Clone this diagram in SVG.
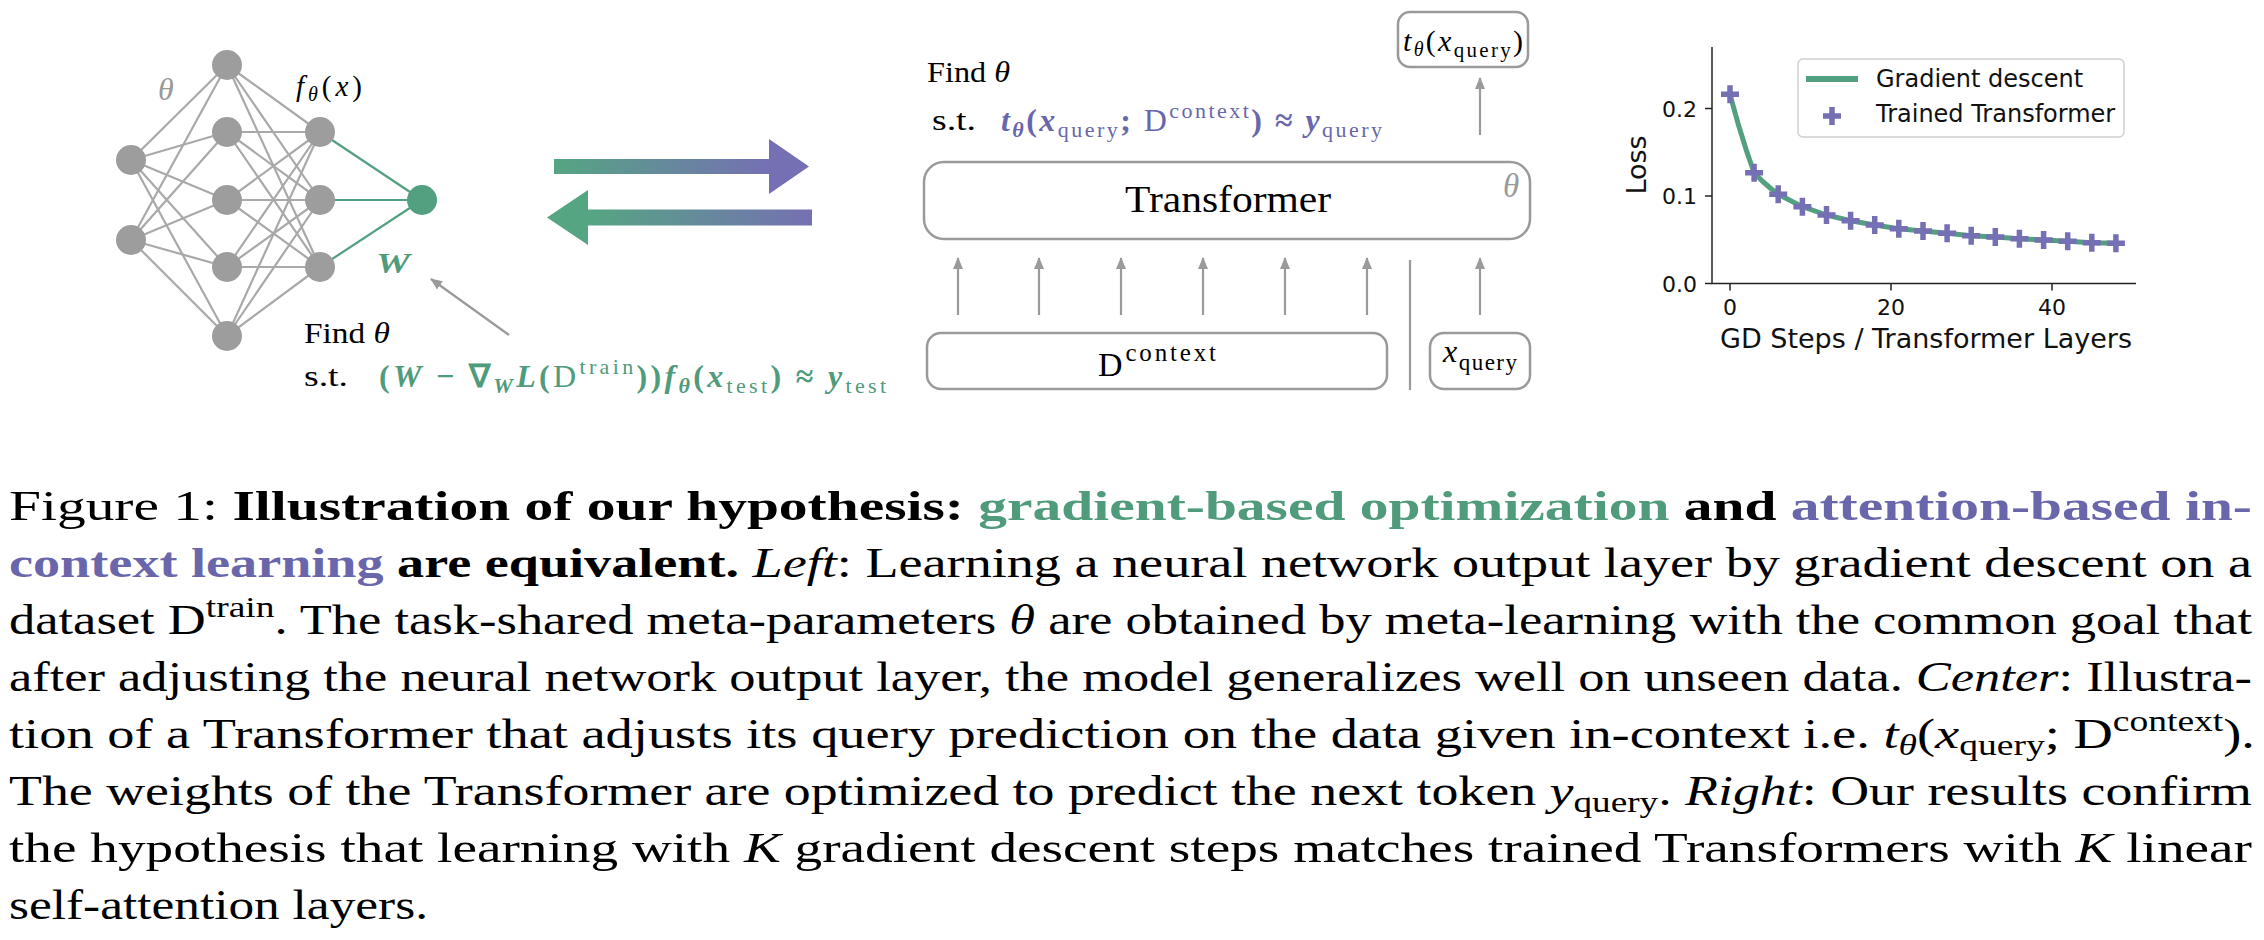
<svg xmlns="http://www.w3.org/2000/svg" width="2264" height="940" viewBox="0 0 2264 940">
<style>
.serif{font-family:"Liberation Serif","Times New Roman",serif}
.sans{font-family:"DejaVu Sans","Liberation Sans",sans-serif}
.edge{stroke:#a9a9a9;stroke-width:2.2;fill:none}
.wedge{stroke:#52a07f;stroke-width:2.2;fill:none}
.node{fill:#9d9d9d}
.onode{fill:#52a07f}
.box{fill:#fff;stroke:#9a9a9a;stroke-width:2.5}
.arr{stroke:#9a9a9a;stroke-width:2.2;fill:none;marker-end:url(#ah)}
.cap{font-family:"Liberation Serif","Times New Roman",serif;font-size:42px;fill:#000}
.b{font-weight:bold}
.n{font-weight:normal}
.i{font-style:italic}
.u{font-style:normal}
.g{fill:#4f9b7b}
.p{fill:#6a66ab}
.gray{fill:#999}
.tick{stroke:#222;stroke-width:1.5}
.tl{font-family:"DejaVu Sans",sans-serif;font-size:22px;fill:#111}
.mk{stroke:#7570b3;stroke-width:5.5;fill:none}
</style>
<defs>
<marker id="ah" viewBox="0 0 12 10" refX="11" refY="5" markerWidth="12" markerHeight="10" markerUnits="userSpaceOnUse" orient="auto"><path d="M0,0 L12,5 L0,10 z" fill="#9a9a9a"/></marker>
<linearGradient id="gTop" gradientUnits="userSpaceOnUse" x1="554" y1="0" x2="769" y2="0"><stop offset="0" stop-color="#55a582"/><stop offset="1" stop-color="#7570b3"/></linearGradient>
<linearGradient id="gBot" gradientUnits="userSpaceOnUse" x1="588" y1="0" x2="812" y2="0"><stop offset="0" stop-color="#55a582"/><stop offset="1" stop-color="#7570b3"/></linearGradient>
<path id="plus" d="M-9,0H9M0,-9V9"/>
</defs>
<rect width="2264" height="940" fill="#fff"/>

<!-- connectors -->
<g id="connectors">
 <g id="nn-edges" class="edge">
  <path d="M131,160L227,65M131,160L227,132M131,160L227,200M131,160L227,267M131,160L227,336"/>
  <path d="M131,240L227,65M131,240L227,132M131,240L227,200M131,240L227,267M131,240L227,336"/>
  <path d="M227,65L320,132M227,65L320,200M227,65L320,267"/>
  <path d="M227,132L320,132M227,132L320,200M227,132L320,267"/>
  <path d="M227,200L320,132M227,200L320,200M227,200L320,267"/>
  <path d="M227,267L320,132M227,267L320,200M227,267L320,267"/>
  <path d="M227,336L320,132M227,336L320,200M227,336L320,267"/>
 </g>
 <g id="nn-out-edges" class="wedge">
  <path d="M320,132L422,200M320,200L422,200M320,267L422,200"/>
 </g>
 <line class="arr" x1="509" y1="335" x2="431" y2="279"/>
 <polygon id="arrow-right" fill="url(#gTop)" points="554,159 769,159 769,139 809,166.5 769,194 769,174 554,174"/>
 <polygon id="arrow-left" fill="url(#gBot)" points="547,217.5 588,190 588,209.5 812,209.5 812,225.5 588,225.5 588,245"/>
 <line class="arr" x1="958" y1="315" x2="958" y2="258"/>
 <line class="arr" x1="1039" y1="315" x2="1039" y2="258"/>
 <line class="arr" x1="1121" y1="315" x2="1121" y2="258"/>
 <line class="arr" x1="1203" y1="315" x2="1203" y2="258"/>
 <line class="arr" x1="1285" y1="315" x2="1285" y2="258"/>
 <line class="arr" x1="1367" y1="315" x2="1367" y2="258"/>
 <line class="arr" x1="1480" y1="315" x2="1480" y2="258"/>
 <line class="arr" x1="1480" y1="135" x2="1480" y2="78"/>
 <line x1="1410" y1="260" x2="1410" y2="390" stroke="#9a9a9a" stroke-width="2.2"/>
</g>

<!-- neural network nodes -->
<g id="nn-in-1"><circle class="node" cx="131" cy="160" r="15"/></g>
<g id="nn-in-2"><circle class="node" cx="131" cy="240" r="15"/></g>
<g id="nn-h1-1"><circle class="node" cx="227" cy="65" r="15"/></g>
<g id="nn-h1-2"><circle class="node" cx="227" cy="132" r="15"/></g>
<g id="nn-h1-3"><circle class="node" cx="227" cy="200" r="15"/></g>
<g id="nn-h1-4"><circle class="node" cx="227" cy="267" r="15"/></g>
<g id="nn-h1-5"><circle class="node" cx="227" cy="336" r="15"/></g>
<g id="nn-h2-1"><circle class="node" cx="320" cy="132" r="15"/></g>
<g id="nn-h2-2"><circle class="node" cx="320" cy="200" r="15"/></g>
<g id="nn-h2-3"><circle class="node" cx="320" cy="267" r="15"/></g>
<g id="nn-out"><circle class="onode" cx="422" cy="200" r="15"/></g>

<g id="nn-labels">
 <text class="serif i gray" x="158" y="100" font-size="32">θ</text>
 <text class="serif" x="296" y="96" font-size="29" textLength="66" lengthAdjust="spacing"><tspan class="i">f</tspan><tspan class="i" font-size="20" dy="5">θ</tspan><tspan dy="-5">(</tspan><tspan class="i">x</tspan>)</text>
 <text class="serif b i g" x="376" y="273" font-size="30" textLength="34" lengthAdjust="spacingAndGlyphs">W</text>
 <text class="serif" x="304" y="343" font-size="29" textLength="86" lengthAdjust="spacingAndGlyphs">Find <tspan class="i">θ</tspan></text>
 <text class="serif" x="304" y="386" font-size="29" textLength="44" lengthAdjust="spacingAndGlyphs">s.t.</text>
 <text class="serif b g" x="379" y="387" font-size="32" textLength="507" lengthAdjust="spacing">(<tspan class="i">W</tspan> − ∇<tspan class="i" font-size="22" dy="6">W</tspan><tspan class="i" dy="-6">L</tspan>(<tspan class="n">D</tspan><tspan class="n" font-size="22" dy="-13">train</tspan><tspan dy="13">))</tspan><tspan class="i">f</tspan><tspan class="i" font-size="22" dy="6">θ</tspan><tspan dy="-6">(</tspan><tspan class="i">x</tspan><tspan class="n" font-size="22" dy="6">test</tspan><tspan dy="-6">) ≈ </tspan><tspan class="i">y</tspan><tspan class="n" font-size="22" dy="6">test</tspan></text>
</g>

<!-- transformer part -->
<g id="find-theta-center">
 <text class="serif" x="927" y="82" font-size="29" textLength="83" lengthAdjust="spacingAndGlyphs">Find <tspan class="i">θ</tspan></text>
 <text class="serif" x="932" y="130" font-size="29" textLength="44" lengthAdjust="spacingAndGlyphs">s.t.</text>
 <text class="serif b p" x="1001" y="131" font-size="32" textLength="381" lengthAdjust="spacing"><tspan class="i">t</tspan><tspan class="i" font-size="22" dy="6">θ</tspan><tspan dy="-6">(</tspan><tspan class="i">x</tspan><tspan class="n" font-size="22" dy="6">query</tspan><tspan dy="-6">; </tspan><tspan class="n">D</tspan><tspan class="n" font-size="22" dy="-13">context</tspan><tspan dy="13">) ≈ </tspan><tspan class="i">y</tspan><tspan class="n" font-size="22" dy="6">query</tspan></text>
</g>
<g id="output-node">
 <rect class="box" x="1398" y="12" width="130" height="55" rx="12"/>
 <text class="serif" x="1403" y="51" font-size="30" textLength="120" lengthAdjust="spacing"><tspan class="i">t</tspan><tspan class="i" font-size="20" dy="5">θ</tspan><tspan dy="-5">(</tspan><tspan class="i">x</tspan><tspan font-size="21" dy="6">query</tspan><tspan dy="-6">)</tspan></text>
</g>
<g id="transformer">
 <rect class="box" x="924" y="162" width="606" height="77" rx="20"/>
 <text class="serif" x="1125" y="212" font-size="38" textLength="206" lengthAdjust="spacingAndGlyphs">Transformer</text>
 <text class="serif i gray" x="1503" y="197" font-size="33">θ</text>
</g>
<g id="context">
 <rect class="box" x="927" y="333" width="460" height="56" rx="14"/>
 <text class="serif" x="1098" y="376" font-size="34" textLength="118" lengthAdjust="spacing">D<tspan font-size="25" dy="-15">context</tspan></text>
</g>
<g id="query">
 <rect class="box" x="1430" y="333" width="100" height="56" rx="14"/>
 <text class="serif" x="1443" y="362" font-size="32" textLength="74" lengthAdjust="spacing"><tspan class="i">x</tspan><tspan font-size="23" dy="8">query</tspan></text>
</g>

<!-- chart -->
<g id="chart">
 <line class="tick" x1="1712" y1="47" x2="1712" y2="283.5"/>
 <line class="tick" x1="1712" y1="283.5" x2="2136" y2="283.5"/>
 <line class="tick" x1="1705" y1="283.5" x2="1712" y2="283.5"/>
 <line class="tick" x1="1705" y1="196" x2="1712" y2="196"/>
 <line class="tick" x1="1705" y1="108.5" x2="1712" y2="108.5"/>
 <line class="tick" x1="1730" y1="283.5" x2="1730" y2="290.5"/>
 <line class="tick" x1="1891" y1="283.5" x2="1891" y2="290.5"/>
 <line class="tick" x1="2052" y1="283.5" x2="2052" y2="290.5"/>
 <text class="tl" x="1697" y="291.5" text-anchor="end">0.0</text>
 <text class="tl" x="1697" y="204" text-anchor="end">0.1</text>
 <text class="tl" x="1697" y="116.5" text-anchor="end">0.2</text>
 <text class="tl" x="1730" y="315" text-anchor="middle">0</text>
 <text class="tl" x="1891" y="315" text-anchor="middle">20</text>
 <text class="tl" x="2052" y="315" text-anchor="middle">40</text>
 <text class="sans" x="1926" y="348" font-size="27" text-anchor="middle" fill="#111">GD Steps / Transformer Layers</text>
 <text class="sans" font-size="27" text-anchor="middle" fill="#111" transform="translate(1646,165) rotate(-90)">Loss</text>
 <polyline fill="none" stroke="#52a07f" stroke-width="5" stroke-linejoin="round" points="1730,94.3 1738,123.4 1746.1,149.6 1754.1,172.7 1762.2,181 1770.2,188 1778.2,194.3 1802.4,206.7 1826.5,215 1850.6,220.7 1874.7,225 1898.8,228.7 1923,231 1947.1,233.3 1971.2,235.7 1995.3,237 2019.4,238.7 2043.6,240 2067.7,241.3 2091.8,242.7 2115.9,243.3"/>
 <g class="mk">
  <use href="#plus" x="1730" y="94.3"/>
  <use href="#plus" x="1754.1" y="172.7"/>
  <use href="#plus" x="1778.2" y="194.3"/>
  <use href="#plus" x="1802.4" y="206.7"/>
  <use href="#plus" x="1826.5" y="215"/>
  <use href="#plus" x="1850.6" y="220.7"/>
  <use href="#plus" x="1874.7" y="225"/>
  <use href="#plus" x="1898.8" y="228.7"/>
  <use href="#plus" x="1923" y="231"/>
  <use href="#plus" x="1947.1" y="233.3"/>
  <use href="#plus" x="1971.2" y="235.7"/>
  <use href="#plus" x="1995.3" y="237"/>
  <use href="#plus" x="2019.4" y="238.7"/>
  <use href="#plus" x="2043.6" y="240"/>
  <use href="#plus" x="2067.7" y="241.3"/>
  <use href="#plus" x="2091.8" y="242.7"/>
  <use href="#plus" x="2115.9" y="243.3"/>
 </g>
 <g id="legend">
  <rect x="1798" y="59" width="326" height="78" rx="5" fill="#fff" fill-opacity="0.85" stroke="#d0d0d0" stroke-width="1.5"/>
  <line x1="1806" y1="79" x2="1858" y2="79" stroke="#52a07f" stroke-width="6"/>
  <use class="mk" href="#plus" x="1832" y="116"/>
  <text class="sans" x="1876" y="87" font-size="24" fill="#111">Gradient descent</text>
  <text class="sans" x="1876" y="122" font-size="24" fill="#111">Trained Transformer</text>
 </g>
</g>

<!-- caption -->
<g id="caption" class="cap">
 <text x="9" y="520" textLength="2243" lengthAdjust="spacingAndGlyphs">Figure 1: <tspan class="b">Illustration of our hypothesis:</tspan> <tspan class="b g">gradient-based optimization</tspan> <tspan class="b">and</tspan> <tspan class="b p">attention-based in-</tspan></text>
 <text x="9" y="577" textLength="2243" lengthAdjust="spacingAndGlyphs"><tspan class="b p">context learning</tspan> <tspan class="b">are equivalent.</tspan> <tspan class="i">Left</tspan>: Learning a neural network output layer by gradient descent on a</text>
 <text x="9" y="634" textLength="2243" lengthAdjust="spacingAndGlyphs">dataset D<tspan font-size="30" dy="-17">train</tspan><tspan dy="17">. The task-shared meta-parameters </tspan><tspan class="i">θ</tspan> are obtained by meta-learning with the common goal that</text>
 <text x="9" y="691" textLength="2243" lengthAdjust="spacingAndGlyphs">after adjusting the neural network output layer, the model generalizes well on unseen data. <tspan class="i">Center</tspan>: Illustra-</text>
 <text x="9" y="748" textLength="2246" lengthAdjust="spacingAndGlyphs">tion of a Transformer that adjusts its query prediction on the data given in-context i.e. <tspan class="i">t</tspan><tspan class="i" font-size="29" dy="7">θ</tspan><tspan dy="-7">(</tspan><tspan class="i">x</tspan><tspan font-size="29" dy="7">query</tspan><tspan dy="-7">; D</tspan><tspan font-size="29" dy="-17">context</tspan><tspan dy="17">).</tspan></text>
 <text x="9" y="805" textLength="2243" lengthAdjust="spacingAndGlyphs">The weights of the Transformer are optimized to predict the next token <tspan class="i">y</tspan><tspan font-size="29" dy="7">query</tspan><tspan dy="-7">. </tspan><tspan class="i">Right</tspan>: Our results confirm</text>
 <text x="9" y="862" textLength="2243" lengthAdjust="spacingAndGlyphs">the hypothesis that learning with <tspan class="i">K</tspan> gradient descent steps matches trained Transformers with <tspan class="i">K</tspan> linear</text>
 <text x="9" y="919" textLength="419" lengthAdjust="spacingAndGlyphs">self-attention layers.</text>
</g>
</svg>
